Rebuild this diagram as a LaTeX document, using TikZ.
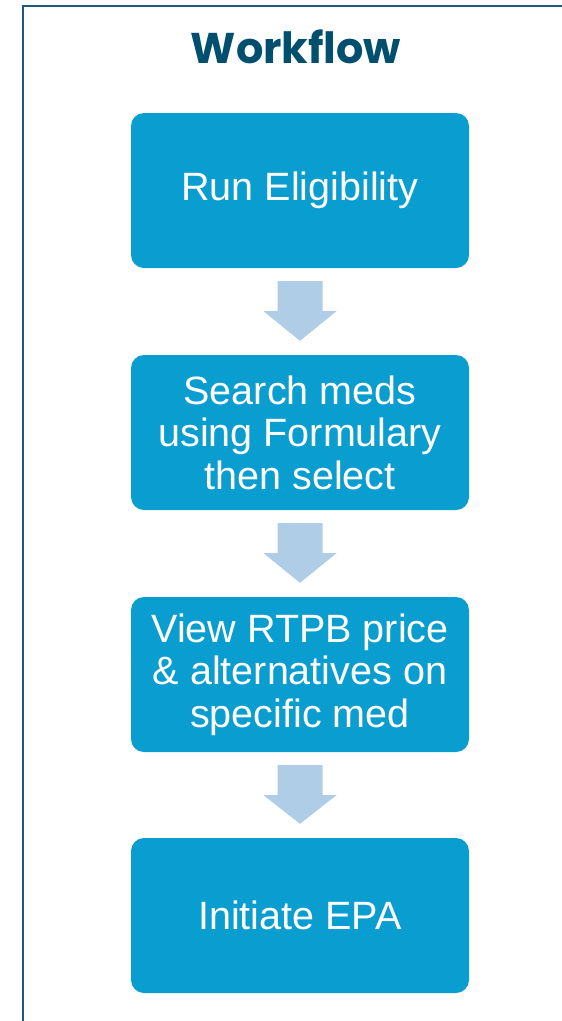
\documentclass[tikz,border=0pt]{standalone}
\usepackage{fontspec}
\setmainfont{Liberation Sans}
\newfontfamily\titlefont{Poppins}
\usetikzlibrary{calc}
\definecolor{boxblue}{HTML}{0A9DCF}
\definecolor{arrowblue}{HTML}{AFCDE6}
\definecolor{titleblue}{HTML}{004F6E}
\definecolor{frameblue}{HTML}{1F5A78}
% block arrow between two steps
\newcommand{\flowarrow}[2]{%
  \fill[arrowblue] ($(#1.south)+(-22.5,13)$) -- ($(#1.south)+(22.5,13)$)
    -- ($(#1.south)+(22.5,43)$) -- ($(#1.south)+(36.5,43)$)
    -- ($(#2.north)+(0,-14)$)
    -- ($(#1.south)+(-36.5,43)$) -- ($(#1.south)+(-22.5,43)$) -- cycle;}
\begin{document}
\begin{tikzpicture}[x=1pt, y=-1pt]
\tikzstyle{stepbox}=[rectangle,rounded corners=13pt,fill=boxblue,text=white,
  minimum width=338pt,minimum height=155pt,align=center,
  font=\fontsize{39.5}{42.5}\selectfont]
\useasboundingbox (0,0) rectangle (562,1021);
\draw[frameblue,line width=2pt] (23,1021) -- (23,6) -- (562,6);
\node[text=titleblue,font=\titlefont\bfseries\fontsize{43}{50}\selectfont](title) at (296,47) {Workflow};
\node[stepbox](s1) at (300,190.5) {Run Eligibility};
\node[stepbox](s2) at (300,432.5) {Search meds\\using Formulary\\then select};
\node[stepbox](s3) at (300,674.5) {View RTPB price\\\& alternatives on\\specific med};
\node[stepbox](s4) at (300,915.5) {Initiate EPA};
\flowarrow{s1}{s2}
\flowarrow{s2}{s3}
\flowarrow{s3}{s4}
\end{tikzpicture}
\end{document}
